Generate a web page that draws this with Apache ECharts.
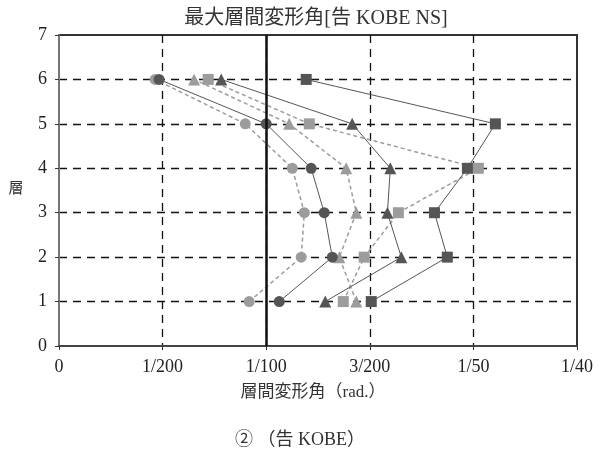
<!DOCTYPE html>
<html><head><meta charset="utf-8">
<script src="https://cdn.jsdelivr.net/npm/echarts@6/dist/echarts.min.js"></script>
<style>html,body{margin:0;padding:0;background:#fff}#c{width:601px;height:454px}</style>
</head><body><div id="c"></div>
<script>
const floors = [1,2,3,4,5,6];
const xTicks = {0:'0',0.005:'1/200',0.01:'1/100',0.015:'3/200',0.02:'1/50',0.025:'1/40'};
// drift angles (rad) per floor 1..6
const darkCircle  = [0.01063,0.01319,0.01280,0.01217,0.01000,0.00483];
const lightCircle = [0.00918,0.01169,0.01184,0.01126,0.00899,0.00464];
const darkTri     = [0.01285,0.01652,0.01585,0.01599,0.01415,0.00783];
const lightTri    = [0.01435,0.01353,0.01435,0.01386,0.01111,0.00652];
const darkSq      = [0.01507,0.01874,0.01812,0.01971,0.02106,0.01193];
const lightSq     = [0.01372,0.01473,0.01638,0.02024,0.01208,0.00720];

const DARK='#555555', LIGHT='#9c9c9c';
const serif = '"Liberation Serif","Noto Sans CJK JP",serif';
function mk(vals, sym, dark){
  return {type:'line', data: vals.map((v,i)=>[v,floors[i]]), symbol:sym, symbolSize: sym==='triangle'?12:11,
    itemStyle:{color: dark?DARK:LIGHT, opacity:1},
    lineStyle:{color: dark?DARK:LIGHT, width: dark?1:1.5, type: dark?'solid':[4,3]},
    z: dark?4:3, animation:false};
}
const chart = echarts.init(document.getElementById('c'));
chart.setOption({
  animation:false,
  grid:{left:59,right:24,top:35,bottom:108,show:true,borderColor:'#333',borderWidth:2,backgroundColor:'transparent'},
  xAxis:{type:'value',min:0,max:0.025,interval:0.005,
    axisLine:{show:true,lineStyle:{color:'#444',width:2}},
    axisTick:{show:true,inside:false,length:4,lineStyle:{color:'#333'}},
    axisLabel:{formatter:v=>xTicks[Math.round(v*1000)/1000]||'',color:'#222',fontFamily:serif,fontSize:18,margin:12},
    splitLine:{show:true,showMinLine:false,showMaxLine:false,lineStyle:{color:'#111',type:[8,6],width:1.3}}},
  yAxis:{type:'value',min:0,max:7,interval:1,
    axisLine:{show:true,lineStyle:{color:'#777',width:2}},
    axisTick:{show:true,length:4,lineStyle:{color:'#333'}},
    axisLabel:{color:'#222',fontFamily:serif,fontSize:18,margin:12},
    splitLine:{show:true,showMinLine:false,showMaxLine:false,lineStyle:{color:'#111',type:[8,6],width:1.3}}},
  graphic:[
    {type:'text',x:316,y:19,style:{text:'最大層間変形角[告 KOBE NS]',font:'20px '+serif,fill:'#333',align:'center',verticalAlign:'middle'}},
    {type:'text',x:313,y:393,style:{text:'層間変形角（rad.）',font:'17px '+serif,fill:'#333',align:'center',verticalAlign:'middle'}},
    {type:'text',x:300,y:440,style:{text:'② （告 KOBE）',font:'18px '+serif,fill:'#333',align:'center',verticalAlign:'middle'}},
    {type:'text',x:16,y:189,style:{text:'層',font:'15px '+serif,fill:'#333',align:'center',verticalAlign:'middle'}}
  ],
  series:[
    mk(lightCircle,'circle',false),
    mk(lightTri,'triangle',false),
    mk(lightSq,'rect',false),
    mk(darkCircle,'circle',true),
    mk(darkTri,'triangle',true),
    mk(darkSq,'rect',true),
    {type:'line',data:[],markLine:{silent:true,symbol:'none',label:{show:false},
      lineStyle:{color:'#111',type:'solid',width:2.5},data:[{xAxis:0.01}]},z:2}
  ]
});
</script></body></html>
